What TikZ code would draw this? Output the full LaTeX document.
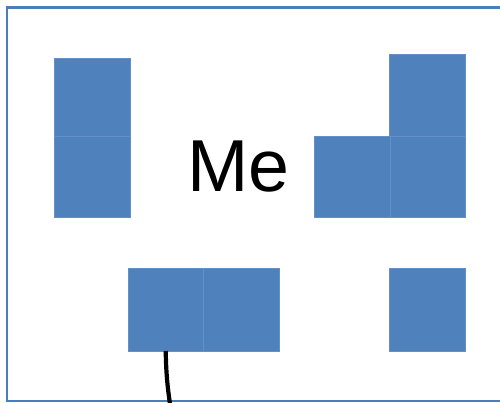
\documentclass[tikz,border=0pt]{standalone}
\usepackage{fontspec}
\setmainfont{Liberation Sans}
\definecolor{cellblue}{HTML}{4F81BD}
\definecolor{frameblue}{HTML}{4A7EBB}
\begin{document}
\begin{tikzpicture}[x=1pt,y=-1pt,
  cell/.style={rectangle, fill=cellblue, draw=cellblue!88!white, line width=0.6pt,
    minimum width=76pt, minimum height=80pt, inner sep=0pt, outer sep=0pt},
  frame/.style={draw=frameblue, line width=2.3pt},
  lead/.style={draw=black, line width=4.2pt}]
\useasboundingbox (0,0) rectangle (500,402);
% frame (open to the right edge of the picture)
\draw[frame] (500,7.5) -- (7,7.5) -- (7,401) -- (500,401);
% left column
\node[cell, minimum height=78pt] (l1) at (92,97) {};
\node[cell, minimum height=81pt] (l2) at (92,176.5) {};
% right group
\node[cell, minimum height=82pt] (r1) at (427,95) {};
\node[cell, minimum height=81pt] (r2) at (352,176.5) {};
\node[cell, minimum height=81pt, minimum width=75pt] (r3) at (427.5,176.5) {};
% bottom left pair
\node[cell, minimum height=83pt, minimum width=75.5pt] (b1) at (165.75,309.5) {};
\node[cell, minimum height=83pt, minimum width=75.5pt] (b2) at (241.25,309.5) {};
% bottom right
\node[cell, minimum height=83pt] (b3) at (427,309.5) {};
% label
\node[font=\fontsize{73.6}{80}\selectfont, anchor=base, inner sep=0pt] (me) at (238.7,191) {Me};
% lead
\coordinate (leadend) at (170,404);
\draw[lead] (b1.south) .. controls (166,375) and (168,390) .. (leadend);
\end{tikzpicture}
\end{document}
